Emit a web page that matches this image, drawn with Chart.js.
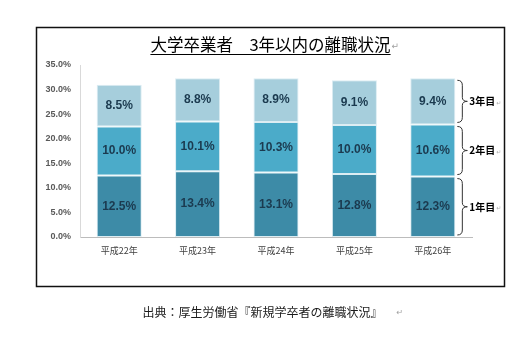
<!DOCTYPE html>
<html lang="ja">
<head>
<meta charset="utf-8">
<title>大学卒業者 3年以内の離職状況</title>
<script src="https://cdn.jsdelivr.net/npm/chart.js@4.4.1/dist/chart.umd.min.js"></script>
<style>
  html, body { margin: 0; padding: 0; background: #ffffff; }
  #wrap { width: 530px; height: 339px; position: relative; }
  canvas { display: block; }
</style>
</head>
<body>
<div id="wrap"><canvas id="chart" width="530" height="339"></canvas></div>
<script>
// 卒業年度
const categories = ['平成22年', '平成23年', '平成24年', '平成25年', '平成26年'];
// 離職率（%）：就職後1年目・2年目・3年目
const firstYear = [12.5, 13.4, 13.1, 12.8, 12.3];
const secondYear = [10.0, 10.1, 10.3, 10.0, 10.6];
const thirdYear = [8.5, 8.8, 8.9, 9.1, 9.4];
const seriesNames = ['1年目', '2年目', '3年目'];
// 縦軸の目盛り
const yMin = 0;
const yMax = 35;
const yStep = 5;

const titleText = '大学卒業者　3年以内の離職状況';
const sourceText = '出典：厚生労働省『新規学卒者の離職状況』';

const CJK = '"Noto Sans CJK JP", "Noto Sans", sans-serif';
const LAT = '"Liberation Sans", Arial, sans-serif';

// 枠・タイトル・出典
const framePlugin = {
  id: 'frame',
  beforeDraw(chart) {
    const ctx = chart.ctx;
    ctx.save();
    ctx.fillStyle = '#ffffff';
    ctx.fillRect(0, 0, chart.width, chart.height);
    ctx.strokeStyle = '#111111';
    ctx.lineWidth = 1.5;
    ctx.strokeRect(36.5, 27.5, 468, 259);

    // タイトル（下線付き）
    ctx.font = '16.5px ' + CJK;
    ctx.fillStyle = '#000000';
    ctx.textAlign = 'center';
    ctx.textBaseline = 'middle';
    const cx = 270.5;
    ctx.fillText(titleText, cx, 45);
    const w = ctx.measureText(titleText).width;
    ctx.strokeStyle = '#000000';
    ctx.lineWidth = 1;
    ctx.beginPath();
    ctx.moveTo(cx - w / 2, 54.5);
    ctx.lineTo(cx + w / 2, 54.5);
    ctx.stroke();
    ctx.font = '9px "DejaVu Sans", sans-serif';
    ctx.fillStyle = '#a0a0a0';
    ctx.textAlign = 'left';
    ctx.fillText('↵', cx + w / 2 + 1, 47);

    // 出典
    ctx.font = '12px ' + CJK;
    ctx.fillStyle = '#1a1a1a';
    ctx.textAlign = 'center';
    ctx.fillText(sourceText, 262.5, 312);
    const sw = ctx.measureText(sourceText).width;
    ctx.font = '8px "DejaVu Sans", sans-serif';
    ctx.fillStyle = '#a0a0a0';
    ctx.textAlign = 'left';
    ctx.fillText('↵', 262.5 + sw / 2 + 14, 313);
    ctx.restore();
  }
};

// 棒の中の数値ラベル
const valueLabelPlugin = {
  id: 'valueLabels',
  afterDatasetsDraw(chart) {
    const ctx = chart.ctx;
    ctx.save();
    ctx.font = 'bold 12px ' + LAT;
    ctx.fillStyle = '#1b3a4f';
    ctx.textAlign = 'center';
    ctx.textBaseline = 'middle';
    chart.data.datasets.forEach((ds, i) => {
      const meta = chart.getDatasetMeta(i);
      meta.data.forEach((el, j) => {
        const v = ds.data[j];
        ctx.fillText(v.toFixed(1) + '%', el.x, (el.y + el.base) / 2);
      });
    });
    ctx.restore();
  }
};

// 右側の波括弧と「n年目」
const bracePlugin = {
  id: 'braces',
  afterDatasetsDraw(chart) {
    const ctx = chart.ctx;
    ctx.save();
    ctx.strokeStyle = '#333333';
    ctx.lineWidth = 1;
    chart.data.datasets.forEach((ds, i) => {
      const meta = chart.getDatasetMeta(i);
      const el = meta.data[meta.data.length - 1];
      const top = Math.min(el.y, el.base) + 2;
      const bottom = Math.max(el.y, el.base) - 2;
      const mid = (top + bottom) / 2;
      const x0 = el.x + el.width / 2 + 2;
      const x1 = x0 + 5;
      const tip = x0 + 10;
      ctx.beginPath();
      ctx.moveTo(x0, top);
      ctx.quadraticCurveTo(x1, top, x1, top + 5);
      ctx.lineTo(x1, mid - 4);
      ctx.quadraticCurveTo(x1, mid, tip, mid);
      ctx.quadraticCurveTo(x1, mid, x1, mid + 4);
      ctx.lineTo(x1, bottom - 5);
      ctx.quadraticCurveTo(x1, bottom, x0, bottom);
      ctx.stroke();

      ctx.font = 'bold 10px ' + CJK;
      ctx.fillStyle = '#000000';
      ctx.textAlign = 'left';
      ctx.textBaseline = 'middle';
      ctx.fillText(seriesNames[i], tip + 2, mid);
      const lw = ctx.measureText(seriesNames[i]).width;
      ctx.font = '6px "DejaVu Sans", sans-serif';
      ctx.fillStyle = '#b0b0b0';
      ctx.fillText('↵', tip + 3 + lw, mid + 2);
    });
    ctx.restore();
  }
};

const barShape = {
  borderColor: '#dcedf3',
  borderWidth: 1,
  borderSkipped: false,
  barPercentage: 0.575,
  categoryPercentage: 1.0
};

new Chart(document.getElementById('chart'), {
  type: 'bar',
  data: {
    labels: categories,
    datasets: [
      Object.assign({ label: seriesNames[0], data: firstYear, backgroundColor: '#3d8ba7' }, barShape),
      Object.assign({ label: seriesNames[1], data: secondYear, backgroundColor: '#4babc9' }, barShape),
      Object.assign({ label: seriesNames[2], data: thirdYear, backgroundColor: '#a6cedc' }, barShape)
    ]
  },
  options: {
    responsive: false,
    animation: false,
    devicePixelRatio: 1,
    layout: { padding: { left: 0, right: 58, top: 65, bottom: 0 } },
    plugins: {
      legend: { display: false },
      tooltip: { enabled: false },
      title: { display: false }
    },
    scales: {
      x: {
        stacked: true,
        grid: { display: false, drawTicks: false },
        border: { display: true, color: '#bcbcbc', width: 1 },
        ticks: {
          padding: 8,
          color: '#404040',
          font: { family: CJK, size: 9 }
        },
        afterFit(scale) { scale.height = 102; }
      },
      y: {
        stacked: true,
        min: yMin,
        max: yMax,
        grid: { display: false, drawTicks: false },
        border: { display: true, color: '#d9d9d9', width: 1 },
        ticks: {
          stepSize: yStep,
          padding: 9,
          color: '#595959',
          font: { family: LAT, size: 9, weight: 'bold' },
          callback: (v) => Number(v).toFixed(1) + '%'
        },
        afterFit(scale) { scale.width = 80; }
      }
    }
  },
  plugins: [framePlugin, valueLabelPlugin, bracePlugin]
});
</script>
</body>
</html>
